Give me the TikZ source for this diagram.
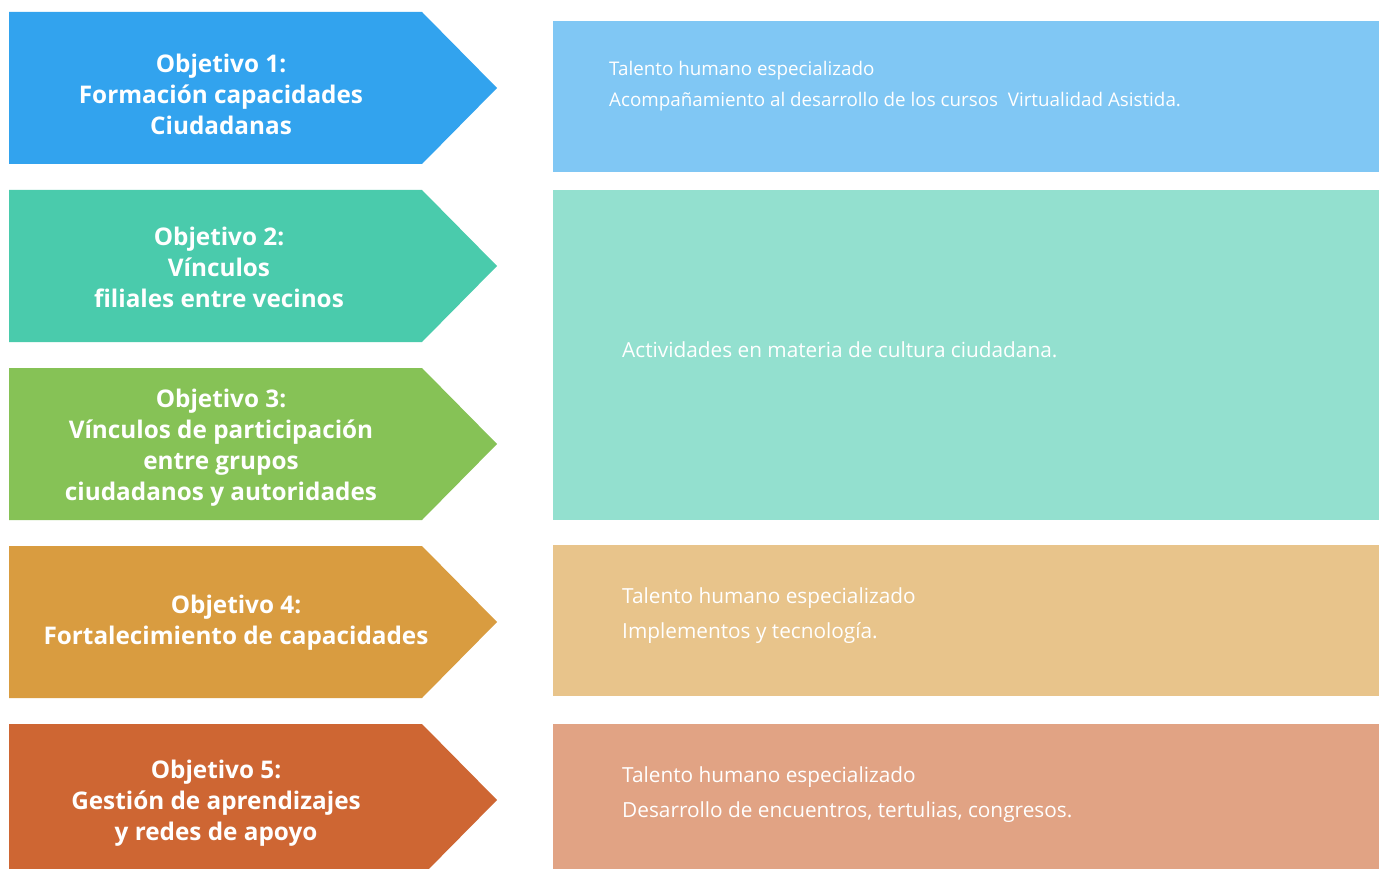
\documentclass[tikz,border=0pt]{standalone}
\usepackage{fontspec}
\setmainfont{Open Sans}
\newfontfamily\boldsans{Open Sans}[UprightFont=* Bold]
\definecolor{aone}{HTML}{32A3EE}
\definecolor{atwo}{HTML}{4ACBAC}
\definecolor{athree}{HTML}{86C256}
\definecolor{afour}{HTML}{D99C40}
\definecolor{afive}{HTML}{CE6633}
\definecolor{bone}{HTML}{80C7F4}
\definecolor{btwo}{HTML}{93E0CF}
\definecolor{bthree}{HTML}{E8C48B}
\definecolor{bfour}{HTML}{E1A384}
\begin{document}
\begin{tikzpicture}[x=1pt,y=-1pt,
  objtext/.style={text=white,align=center,font=\boldsans\fontsize{24.3}{31}\selectfont,inner sep=0pt},
  restext/.style={text=white,align=left,anchor=west,font=\fontsize{20.8}{35}\selectfont,inner sep=0pt}]
\useasboundingbox (0,0) rectangle (1379,869);
\fill[white] (0,0) rectangle (1379,869);
% arrows
\foreach \t/\c in {12/aone,190/atwo,368/athree,546/afour,724/afive}{
  \fill[\c] (9,\t) -- (422,\t) -- (497,\t+76) -- (422,\t+152) -- (9,\t+152) -- cycle;
}
% boxes
\fill[bone] (553,21) rectangle (1379,172);
\fill[btwo] (553,190) rectangle (1379,520);
\fill[bthree] (553,545) rectangle (1379,696);
\fill[bfour] (553,724) rectangle (1379,869);
% objective texts
\node[objtext] (o1) at (221,94) {Objetivo 1:\\Formación capacidades\\Ciudadanas};
\node[objtext] (o2) at (219,267) {Objetivo 2:\\Vínculos\\filiales entre vecinos};
\node[objtext] (o3) at (221,448) {Objetivo 3:\\Vínculos de participación\\entre grupos\\ciudadanos y autoridades};
\node[objtext] (o4) at (236,623) {Objetivo 4:\\Fortalecimiento de capacidades};
\node[objtext] (o5) at (216,803) {Objetivo 5:\\Gestión de aprendizajes\\y redes de apoyo};
% resource texts
\node[restext,font=\fontsize{18.8}{31}\selectfont] (r1) at (609,86) {Talento humano especializado\\Acompañamiento al desarrollo de los cursos\ \ Virtualidad Asistida.};
\node[restext] (r2) at (622,350) {Actividades en materia de cultura ciudadana.};
\node[restext] (r3) at (622,616) {Talento humano especializado\\Implementos y tecnología.};
\node[restext] (r4) at (622,795) {Talento humano especializado\\Desarrollo de encuentros, tertulias, congresos.};
\end{tikzpicture}
\end{document}
